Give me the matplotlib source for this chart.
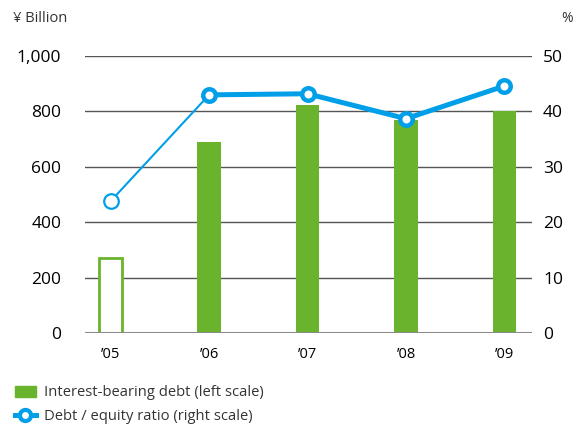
import matplotlib.pyplot as plt
from matplotlib.lines import Line2D
from matplotlib.patches import Patch

years = ["\u201905", "\u201906", "\u201907", "\u201908", "\u201909"]
debt = [271, 690, 822, 768, 800]          # ¥ billion
ratio = [23.8, 43.0, 43.2, 38.7, 44.6]    # %
left_ticks = [0, 200, 400, 600, 800, 1000]
right_ticks = [0, 10, 20, 30, 40, 50]

green = "#6ab42d"
blue = "#009fe8"

plt.rcParams['font.family'] = ['Open Sans', 'DejaVu Sans']

fig = plt.figure(figsize=(5.76, 4.25), dpi=100)
ax = fig.add_axes([0.1476, 0.2165, 0.776, 0.6515])
x = list(range(len(years)))

# first year drawn as an outline bar, the rest filled
ax.bar(x[0], debt[0], width=0.24, facecolor="white", edgecolor=green, linewidth=2, zorder=3)
ax.bar(x[1:], debt[1:], width=0.24, color=green, zorder=3)

ax.set_xlim(-0.26, 4.28)
ax.set_ylim(0, 1000)
ax.set_yticks(left_ticks)
ax.set_yticklabels(["{:,}".format(v) for v in left_ticks], fontsize=12.5)
ax.set_xticks(x)
ax.set_xticklabels(years, fontsize=10.5)
ax.tick_params(axis='y', length=0, pad=17)
ax.tick_params(axis='x', length=0, pad=10)
for v in left_ticks[1:]:
    ax.axhline(v, color="#555555", lw=1.0, zorder=1)
ax.axhline(0, color="#8a8a8a", lw=2.2, zorder=4)
for s in ax.spines.values():
    s.set_visible(False)

ax2 = ax.twinx()
ax2.set_ylim(0, 50)
ax2.set_yticks(right_ticks)
ax2.set_yticklabels([str(v) for v in right_ticks], fontsize=12.5)
ax2.tick_params(axis='y', length=0, pad=8)
for s in ax2.spines.values():
    s.set_visible(False)

ax2.plot(x[:2], ratio[:2], color=blue, lw=1.5, zorder=5)
ax2.plot(x[1:], ratio[1:], color=blue, lw=3.6, zorder=5)
ax2.plot(x[0], ratio[0], 'o', ms=10.5, mfc="white", mec=blue, mew=1.6, zorder=6, clip_on=False)
ax2.plot(x[1:], ratio[1:], 'o', ms=9, mfc="white", mec=blue, mew=3.2, zorder=6, clip_on=False)

fig.text(0.022, 0.957, "\u00a5 Billion", fontsize=10.5, color="#333333", va='center')
fig.text(0.995, 0.957, "%", fontsize=10, color="#333333", va='center', ha='right')

handles = [
    Patch(facecolor=green, edgecolor=green),
    Line2D([], [], color=blue, lw=3.6, marker='o', ms=8, mfc="white", mec=blue, mew=3.0),
]
labels = ["Interest-bearing debt (left scale)", "Debt / equity ratio (right scale)"]
fig.legend(handles, labels, loc='upper left', bbox_to_anchor=(0.026, 0.093),
           frameon=False, fontsize=10.6, handlelength=1.4, handleheight=0.8,
           handletextpad=0.6, labelspacing=0.58, borderaxespad=0, borderpad=0,
           labelcolor="#333333")

fig.savefig("out.png", dpi=100)
